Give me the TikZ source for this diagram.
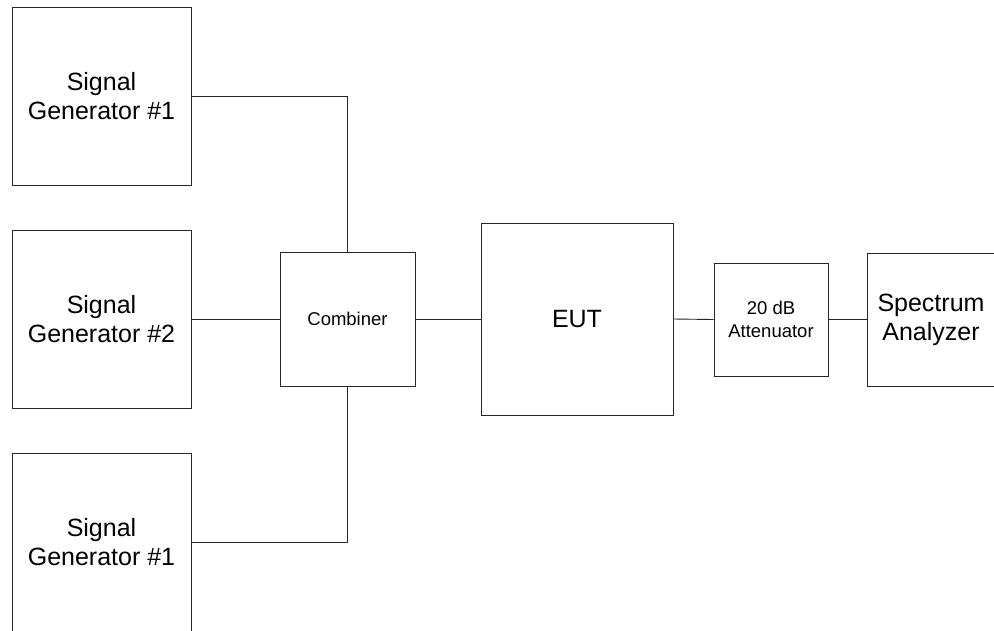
\documentclass[tikz,border=0pt]{standalone}
\usepackage{fontspec}
\setmainfont{Liberation Sans}
\begin{document}
\begin{tikzpicture}[x=1pt,y=-1pt,
  blk/.style={draw=black!85,line width=0.9pt,rectangle,inner sep=0pt,align=center},
  big/.style={font=\fontsize{25}{29}\selectfont},
  small/.style={font=\fontsize{18.5}{23}\selectfont},
  wire/.style={draw=black!85,line width=0.9pt}]
\useasboundingbox (0,0) rectangle (994,630);
\clip (0,0) rectangle (994,630);
\node[blk,big,minimum width=179pt,minimum height=178pt] (sg1) at (101.5,96) {Signal\\Generator \#1};
\node[blk,big,minimum width=179pt,minimum height=178pt] (sg2) at (101.5,319) {Signal\\Generator \#2};
\node[blk,big,minimum width=179pt,minimum height=178pt] (sg3) at (101.5,542) {Signal\\Generator \#1};
\node[blk,small,minimum width=135pt,minimum height=134pt] (comb) at (347.5,319) {Combiner};
\node[blk,big,minimum width=192pt,minimum height=192pt] (eut) at (577,319) {EUT};
\node[blk,small,minimum width=114pt,minimum height=113pt] (att) at (771,319.5) {20 dB\\Attenuator};
\node[blk,big,minimum width=128pt,minimum height=133pt] (sa) at (931,319.5) {Spectrum\\Analyzer};
\draw[wire] (sg1.east) -| (comb.north);
\draw[wire] (sg2.east) -- (comb.west);
\draw[wire] (sg3.east) -| (comb.south);
\draw[wire] (comb.east) -- (eut.west);
\draw[wire] (eut.east) -- (att.west);
\draw[wire] (att.east) -- (sa.west);
\end{tikzpicture}
\end{document}
